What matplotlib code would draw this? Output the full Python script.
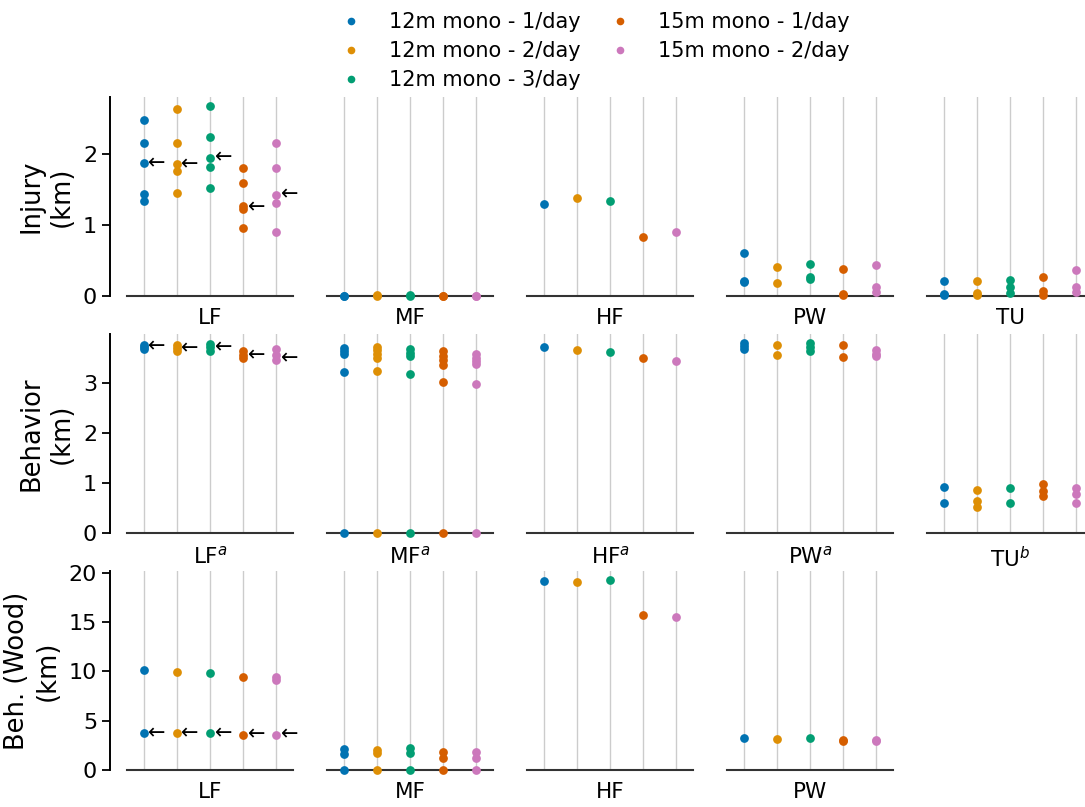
import matplotlib
matplotlib.use("Agg")
import matplotlib.pyplot as plt
from matplotlib.lines import Line2D

scenarios = [
    "12m mono - 1/day",
    "12m mono - 2/day",
    "12m mono - 3/day",
    "15m mono - 1/day",
    "15m mono - 2/day",
]
colors = ["#0173b2", "#de8f05", "#029e73", "#d55e00", "#cc78bc"]

# Injury (km) per hearing group, one list per scenario
injury_lf = [[2.47, 2.15, 1.86, 1.43, 1.33], [2.63, 2.15, 1.85, 1.76, 1.44],
             [2.66, 2.23, 1.94, 1.81, 1.51], [1.80, 1.58, 1.26, 1.22, 0.95],
             [2.15, 1.80, 1.42, 1.31, 0.90]]
injury_mf = [[0.0, 0.0], [0.0, 0.01], [0.0, 0.02], [0.0, 0.0], [0.0, 0.0]]
injury_hf = [[1.29], [1.38], [1.34], [0.83], [0.90]]
injury_pw = [[0.61, 0.21, 0.19], [0.41, 0.18], [0.45, 0.27, 0.24],
             [0.38, 0.03, 0.01], [0.44, 0.12, 0.05]]
injury_tu = [[0.21, 0.03, 0.01], [0.21, 0.04, 0.01], [0.23, 0.13, 0.04],
             [0.26, 0.07, 0.01], [0.37, 0.13, 0.05]]
injury_arrows = [1.86, 1.85, 1.94, 1.24, 1.42]

# Behavior (km)
behavior_lf = [[3.74, 3.70, 3.66], [3.74, 3.68, 3.62], [3.76, 3.70, 3.62],
               [3.62, 3.55, 3.50], [3.66, 3.56, 3.46]]
behavior_mf = [[3.69, 3.63, 3.57, 3.22, 0.0], [3.71, 3.64, 3.57, 3.50, 3.23, 0.0],
               [3.66, 3.60, 3.54, 3.18, 0.0], [3.63, 3.54, 3.45, 3.36, 3.01, 0.0],
               [3.58, 3.50, 3.43, 3.37, 2.98, 0.0]]
behavior_hf = [[3.70], [3.65], [3.61], [3.50], [3.44]]
behavior_pw = [[3.78, 3.72, 3.66], [3.74, 3.56], [3.78, 3.70, 3.62],
               [3.75, 3.52], [3.64, 3.58, 3.54]]
behavior_tu = [[0.92, 0.59], [0.86, 0.64, 0.51], [0.89, 0.59],
               [0.97, 0.83, 0.73], [0.90, 0.77, 0.60]]
behavior_arrows = [3.72, 3.68, 3.70, 3.55, 3.48]

# Behavior, Wood threshold (km)
wood_lf = [[10.14, 3.74], [9.94, 3.74], [9.84, 3.74], [9.43, 3.57], [9.40, 9.10, 3.57]]
wood_mf = [[2.1, 1.6, 0.0], [2.0, 1.7, 0.0], [2.2, 1.7, 0.0], [1.8, 1.2, 0.0], [1.8, 1.2, 0.0]]
wood_hf = [[19.12], [19.05], [19.22], [15.71], [15.48]]
wood_pw = [[3.2], [3.15], [3.2], [3.0, 2.9], [3.05, 2.9]]
wood_arrows = [3.74, 3.74, 3.74, 3.57, 3.57]

rows = [
    ("Injury\n(km)", [injury_lf, injury_mf, injury_hf, injury_pw, injury_tu],
     ["LF", "MF", "HF", "PW", "TU"], injury_arrows, [0, 1, 2]),
    ("Behavior\n(km)", [behavior_lf, behavior_mf, behavior_hf, behavior_pw, behavior_tu],
     ["LF$^a$", "MF$^a$", "HF$^a$", "PW$^a$", "TU$^b$"], behavior_arrows, [0, 1, 2, 3]),
    ("Beh. (Wood)\n(km)", [wood_lf, wood_mf, wood_hf, wood_pw],
     ["LF", "MF", "HF", "PW"], wood_arrows, [0, 5, 10, 15, 20]),
]

W, H = 1085, 807
fig = plt.figure(figsize=(W / 100, H / 100), dpi=100)

col_left = [127, 327, 527, 727, 927]
row_top = [97, 334, 571]
ax_w, ax_h = 166, 199

for r, (ylabel, panels, xlabels, arrows, yticks) in enumerate(rows):
    ymax = max(v for p in panels for grp in p for v in grp) * 1.05
    for c, panel in enumerate(panels):
        ax = fig.add_axes([col_left[c] / W, 1 - (row_top[r] + ax_h) / H,
                           ax_w / W, ax_h / H])
        for i, vals in enumerate(panel):
            ax.axvline(i, color="#cccccc", lw=1.0, zorder=0)
            ax.plot([i] * len(vals), vals, "o", color=colors[i], ms=6.3,
                    mec="none", zorder=3, clip_on=False)
        ax.set_xlim(-0.5, 4.5)
        ax.set_ylim(0, ymax)
        ax.set_xticks([])
        ax.set_xlabel(xlabels[c], fontsize=15.5, labelpad=9)
        for s in ["top", "right"]:
            ax.spines[s].set_visible(False)
        ax.spines["bottom"].set_color("#333333")
        ax.spines["bottom"].set_linewidth(1.5)
        if c == 0:
            ax.spines["left"].set_position(("outward", 12))
            ax.spines["left"].set_linewidth(1.4)
            ax.set_yticks(yticks)
            ax.tick_params(axis="y", labelsize=16, length=6, width=1.3)
            ax.set_ylabel(ylabel, fontsize=18.5, labelpad=6)
            for i, yv in enumerate(arrows):
                ax.text(i + 0.14, yv, "\u2190", fontsize=15, ha="left",
                        va="center", zorder=4)
        else:
            ax.spines["left"].set_visible(False)
            ax.set_yticks([])

handles = [Line2D([], [], marker="o", ls="none", color=col, ms=5.5, mec="none")
           for col in colors]
fig.legend(handles, scenarios, loc="upper center", ncol=2, frameon=False,
           fontsize=15, bbox_to_anchor=(590 / W, 1.008), columnspacing=0.9,
           handletextpad=0.8, labelspacing=0.42)

fig.savefig("out.png", dpi=100)
